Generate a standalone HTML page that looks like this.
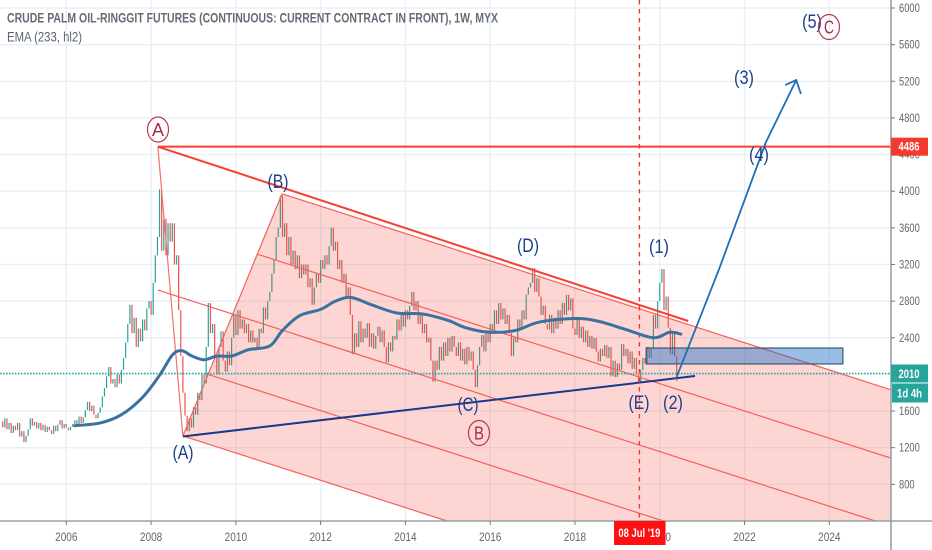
<!DOCTYPE html>
<html>
<head>
<meta charset="utf-8">
<title>Crude Palm Oil Chart</title>
<style>
html,body{margin:0;padding:0;background:#fff;width:932px;height:550px;overflow:hidden}
svg{display:block;filter:blur(0.35px)}
text{font-family:"Liberation Sans",sans-serif}
</style>
</head>
<body>
<svg id="chart" width="932" height="550" viewBox="0 0 932 550" xmlns="http://www.w3.org/2000/svg">
  <defs><clipPath id="plot-clip"><rect x="0" y="0" width="891" height="521"/></clipPath></defs>
  <g id="grid"></g>
  <g id="candles" clip-path="url(#plot-clip)"></g>
  <g id="drawings" clip-path="url(#plot-clip)"></g>
  <g id="ema" clip-path="url(#plot-clip)"></g>
  <g id="axes"></g>

  <text x="7" y="22.5" font-size="13.5" font-weight="bold" fill="#636c77" textLength="491" lengthAdjust="spacingAndGlyphs">CRUDE PALM OIL-RINGGIT FUTURES (CONTINUOUS: CURRENT CONTRACT IN FRONT), 1W, MYX</text>
  <text x="7" y="41.5" font-size="13.5" fill="#5b6570" textLength="75" lengthAdjust="spacingAndGlyphs">EMA (233, hl2)</text>

  <g font-size="19" fill="#1b3f8f" text-anchor="middle">
    <text x="278" y="188" textLength="21" lengthAdjust="spacingAndGlyphs">(B)</text>
    <text x="528" y="252" textLength="22" lengthAdjust="spacingAndGlyphs">(D)</text>
    <text x="659" y="253" textLength="20" lengthAdjust="spacingAndGlyphs">(1)</text>
    <text x="744" y="84" textLength="20" lengthAdjust="spacingAndGlyphs">(3)</text>
    <text x="759" y="161" textLength="20" lengthAdjust="spacingAndGlyphs">(4)</text>
    <text x="812" y="28" textLength="20" lengthAdjust="spacingAndGlyphs">(5)</text>
    <text x="183" y="459" textLength="21" lengthAdjust="spacingAndGlyphs">(A)</text>
    <text x="468" y="411" textLength="21" lengthAdjust="spacingAndGlyphs">(C)</text>
    <text x="639" y="409" textLength="21" lengthAdjust="spacingAndGlyphs">(E)</text>
    <text x="673" y="409" textLength="20" lengthAdjust="spacingAndGlyphs">(2)</text>
  </g>

  <g>
    <ellipse cx="158" cy="129.5" rx="10.5" ry="12.5" fill="#fff" stroke="#b8394c" stroke-width="1.2"/>
    <text x="158" y="136" font-size="18" fill="#a82c45" text-anchor="middle" textLength="12" lengthAdjust="spacingAndGlyphs">A</text>
  </g>
  <g>
    <ellipse cx="479" cy="433" rx="10.5" ry="12.5" fill="none" stroke="#b8394c" stroke-width="1.2"/>
    <text x="479" y="439.5" font-size="18" fill="#a82c45" text-anchor="middle" textLength="10" lengthAdjust="spacingAndGlyphs">B</text>
  </g>
  <g>
    <ellipse cx="829" cy="27" rx="10.5" ry="12.5" fill="none" stroke="#b8394c" stroke-width="1.2"/>
    <text x="829" y="33.5" font-size="18" fill="#a82c45" text-anchor="middle" textLength="10" lengthAdjust="spacingAndGlyphs">C</text>
  </g>

  <g id="labels"></g>
</svg>
<script>
// ---- axis labels ----
const priceTicks = [6000,5600,5200,4800,4400,4000,3600,3200,2800,2400,2000,1600,1200,800];
const yearTicks = [2006,2008,2010,2012,2014,2016,2018,2020,2022,2024];

// ---- weekly series, sampled every 0.05 year from 2004.45 ----
const seriesStartYear = 2004.45;
const seriesStepYears = 0.05;
const closes = [
 1490,1420,1520,1400,1470,1360,1440,1390,1470,1320,1380,1260,1330,1400,1520,1440,1480,1410,1470,1390,
 1450,1370,1430,1390,1350,1440,1380,1450,1500,1410,1460,1420,1390,1430,1460,1500,1450,1540,1470,1530,
 1610,1700,1600,1660,1560,1520,1580,1640,1760,1850,1980,2080,1900,1950,1860,2000,1900,2050,2180,2350,
 2550,2760,2450,2620,2300,2500,2360,2600,2480,2720,2800,2650,3000,3300,3500,4020,3350,3700,3300,3650,
 3450,3650,3200,3300,2700,2200,1800,1550,1380,1520,1420,1640,1560,1800,1720,2000,1900,2300,2780,2450,
 2550,2200,2000,2300,2470,2150,2030,2250,2100,2400,2650,2430,2700,2500,2600,2450,2550,2350,2480,2350,
 2400,2290,2500,2450,2730,2600,2800,2900,3100,3250,3500,3600,3950,3500,3650,3300,3500,3200,3350,3150,
 3300,3050,3200,3090,3200,2950,3050,2760,2950,3100,3000,3250,3150,3300,3200,3400,3600,3350,3450,3150,
 3250,3000,3100,2850,2950,2650,2220,2450,2300,2580,2350,2500,2400,2560,2300,2450,2280,2420,2520,2350,
 2480,2300,2130,2350,2250,2420,2380,2600,2480,2650,2520,2700,2600,2750,2900,2700,2800,2550,2650,2450,
 2550,2350,2400,2150,1920,2150,2050,2300,2150,2350,2200,2400,2250,2420,2300,2200,2350,2150,2280,2110,
 2300,2150,2250,2050,1860,2100,2300,2430,2250,2480,2350,2550,2450,2700,2550,2780,2600,2720,2550,2650,
 2450,2200,2400,2350,2600,2500,2700,2600,2870,2950,3000,3160,2900,3050,2850,2650,2750,2550,2490,2650,
 2450,2620,2500,2700,2550,2780,2650,2870,2700,2830,2500,2430,2600,2400,2520,2350,2480,2300,2420,2280,
 2400,2250,2140,2280,2200,2320,2180,2300,1980,2150,1970,2120,2050,2330,2200,2280,2120,2250,2060,2180,
 2000,1920,2050,2180,2120,2300,2180,2280,2650,2500,2800,3000,3150,2700,2850,2510,2220,2450,2200,1930
];

// ---- EMA (233, hl2) ----
const emaYears = [2006.2,2006.8,2007.3,2007.8,2008.2,2008.5,2008.72,2008.97,2009.25,2009.55,2009.9,2010.3,2010.8,2011.1,2011.5,2012.0,2012.35,2012.72,2013.2,2013.8,2014.4,2015.0,2015.42,2015.98,2016.6,2017.15,2018.0,2018.55,2019.2,2019.85,2020.23,2020.5];
const emaPrices = [1440,1470,1560,1750,1990,2210,2260,2200,2160,2200,2200,2270,2310,2480,2640,2710,2800,2840,2760,2670,2660,2590,2510,2460,2480,2570,2610,2580,2490,2400,2460,2440];

// ---- drawings ----
const channelStartYears = [2011.09,2010.50,2008.16,2009.32,2008.75];
const channelStartPrices = [3972,3314,2921,2004,1328];
const channelSlopePerYear = -149;
const topLevelPrice = 4486;
const topAnchorYear = 2008.16;
const resistanceEnd = [2020.67, 2583];
const supportStart = [2008.75, 1322];
const supportEnd = [2020.83, 1982];
const arrowYears = [2020.38,2021.4,2022.5,2023.22];
const arrowPrices = [1950,3150,4530,5214];
const arrowHeadLeft = [2022.96,5159];
const arrowHeadRight = [2023.33,5061];
const zoneYears = [2019.68,2024.32];
const zonePrices = [2288,2114];
const cursorYear = 2019.52;
const cursorLabel = "08 Jul '19";
const lastPrice = 2010;
const countdownLabel = "1d 4h";

// ---- axis functions ----
function xOf(year){ return 66.3 + (year - 2006) * 42.39; }
function yOf(price){ return 8 + (6000 - price) * 0.0916; }
function yearOfX(x){ return 2006 + (x - 66.3) / 42.39; }
function priceOfY(y){ return 6000 - (y - 8) / 0.0916; }
const plotRightYear = yearOfX(891);
const plotBottomPrice = priceOfY(521);

const NS = 'http://www.w3.org/2000/svg';
function mk(tag, parent, attrs){
  const n = document.createElementNS(NS, tag);
  for (const k in attrs) n.setAttribute(k, attrs[k]);
  parent.appendChild(n);
  return n;
}
const gridG = document.getElementById('grid');
const candleG = document.getElementById('candles');
const drawG = document.getElementById('drawings');
const emaG = document.getElementById('ema');
const axesG = document.getElementById('axes');
const labelG = document.getElementById('labels');

// grid
priceTicks.forEach(function(p){
  const el = mk('line', gridG, {x1:0, x2:891, y1:yOf(p), y2:yOf(p), stroke:'#e8eff6', 'stroke-width':1.4});
  
  
});
yearTicks.forEach(function(t){
  const el = mk('line', gridG, {x1:xOf(t), x2:xOf(t), y1:0, y2:521, stroke:'#e8eff6', 'stroke-width':1.4});
  
  
});

// candles
closes.forEach(function(c, i){
  if (i === 0) return;
  const o = closes[i-1];
  const year = seriesStartYear + i * seriesStepYears;
  const top = yOf(Math.max(o, c));
  const bottom = yOf(Math.min(o, c));
  const el = mk('rect', candleG, {x:xOf(year)-0.6, y:top, width:1.2, height:Math.max(bottom-top, 1), fill: c >= o ? '#26a69a' : '#f0524f'});
  
  
});

// pitchfork: each channel line ends where it leaves the plot area
function channelPrice(i, year){ return channelStartPrices[i] + (year - channelStartYears[i]) * channelSlopePerYear; }
function channelEnd(i){
  const atRight = channelPrice(i, plotRightYear);
  if (atRight >= plotBottomPrice) return [plotRightYear, atRight];
  return [channelStartYears[i] + (plotBottomPrice - channelStartPrices[i]) / channelSlopePerYear, plotBottomPrice];
}
const fillPts = [
  [channelStartYears[0], channelStartPrices[0]],
  channelEnd(0),
  [plotRightYear, plotBottomPrice],
  channelEnd(4),
  [channelStartYears[4], channelStartPrices[4]]
].map(function(p){ return xOf(p[0]) + ',' + yOf(p[1]); }).join(' ');
const channelFill = mk('polygon', drawG, {points:fillPts, fill:'#f44336', 'fill-opacity':0.22});



// channel lines
channelStartYears.forEach(function(t, i){
  const end = channelEnd(i);
  const el = mk('line', drawG, {x1:xOf(t), y1:yOf(channelStartPrices[i]), x2:xOf(end[0]), y2:yOf(end[1]), stroke:'#f4605a', 'stroke-width':1.2});
  
  
});
const forkEdge = mk('line', drawG, {x1:xOf(channelStartYears[0]), y1:yOf(channelStartPrices[0]), x2:xOf(channelStartYears[4]), y2:yOf(channelStartPrices[4]), stroke:'#f4605a', 'stroke-width':1.2});


const forkHandle = mk('line', drawG, {x1:xOf(topAnchorYear), y1:yOf(topLevelPrice), x2:xOf(channelStartYears[4]), y2:yOf(channelStartPrices[4]), stroke:'#f4706a', 'stroke-width':1.2});



// zone
const zoneRect = mk('rect', drawG, {x:xOf(zoneYears[0]), y:yOf(zonePrices[0]), width:xOf(zoneYears[1])-xOf(zoneYears[0]), height:yOf(zonePrices[1])-yOf(zonePrices[0]), fill:'#2a78c8', 'fill-opacity':0.48, stroke:'#3e566e', 'stroke-width':1.2});



// horizontal & trend lines
const levelLine = mk('line', drawG, {x1:xOf(topAnchorYear), y1:yOf(topLevelPrice), x2:891, y2:yOf(topLevelPrice), stroke:'#fb3d32', 'stroke-width':2});


const resistLine = mk('line', drawG, {x1:xOf(topAnchorYear), y1:yOf(topLevelPrice), x2:xOf(resistanceEnd[0]), y2:yOf(resistanceEnd[1]), stroke:'#fb3d32', 'stroke-width':2});


const supportLine = mk('line', drawG, {x1:xOf(supportStart[0]), y1:yOf(supportStart[1]), x2:xOf(supportEnd[0]), y2:yOf(supportEnd[1]), stroke:'#17398c', 'stroke-width':2});



// last price line
const lastLine = mk('line', drawG, {x1:0, x2:891, y1:yOf(lastPrice), y2:yOf(lastPrice), stroke:'#26a69a', 'stroke-width':1.5, 'stroke-dasharray':'1.5 1.5'});



// cursor
const cursorLine = mk('line', drawG, {x1:xOf(cursorYear), x2:xOf(cursorYear), y1:0, y2:521, stroke:'#f0352e', 'stroke-width':1.4, 'stroke-dasharray':'4.5 4.5'});



// arrow
const arrowPts = arrowYears.map(function(t, i){ return xOf(t) + ',' + yOf(arrowPrices[i]); }).join(' ');
const arrowLine = mk('polyline', drawG, {points:arrowPts, fill:'none', stroke:'#1f6fb4', 'stroke-width':1.8});


const headPts = [arrowHeadLeft, [arrowYears[arrowYears.length-1], arrowPrices[arrowPrices.length-1]], arrowHeadRight].map(function(p){ return xOf(p[0]) + ',' + yOf(p[1]); }).join(' ');
const arrowHead = mk('polyline', drawG, {points:headPts, fill:'none', stroke:'#1f6fb4', 'stroke-width':1.8});



// EMA
const emaPts = emaYears.map(function(t, i){ return [xOf(t), yOf(emaPrices[i])]; });
let emaD = 'M' + emaPts[0][0] + ' ' + emaPts[0][1];
for (let i = 0; i < emaPts.length - 1; i++){
  const p0 = emaPts[Math.max(i-1,0)], p1 = emaPts[i], p2 = emaPts[i+1], p3 = emaPts[Math.min(i+2, emaPts.length-1)];
  emaD += ' C' + (p1[0]+(p2[0]-p0[0])/6) + ' ' + (p1[1]+(p2[1]-p0[1])/6) + ' ' + (p2[0]-(p3[0]-p1[0])/6) + ' ' + (p2[1]-(p3[1]-p1[1])/6) + ' ' + p2[0] + ' ' + p2[1];
}
const emaLine = mk('path', emaG, {d:emaD, fill:'none', stroke:'#3a729f', 'stroke-width':3, 'stroke-linejoin':'round', 'stroke-linecap':'round'});



// axes
const xAxis = mk('line', axesG, {x1:0, x2:932, y1:521, y2:521, stroke:'#9aa0a6', 'stroke-width':1.4});


const yAxis = mk('line', axesG, {x1:891, x2:891, y1:0, y2:550, stroke:'#9aa0a6', 'stroke-width':1.6});


priceTicks.forEach(function(p){
  const tick = mk('line', axesG, {x1:891, x2:895, y1:yOf(p), y2:yOf(p), stroke:'#777', 'stroke-width':1});
  
  
  const s = String(p);
  const lab = mk('text', axesG, {x:899, y:yOf(p)+4, 'font-size':11.5, fill:'#5f6770', textLength:s.length*5.2, lengthAdjust:'spacingAndGlyphs'});
  lab.textContent = s;
  
  
});
yearTicks.forEach(function(t){
  const tick = mk('line', axesG, {x1:xOf(t), x2:xOf(t), y1:521, y2:525, stroke:'#777', 'stroke-width':1});
  
  
  const lab = mk('text', axesG, {x:xOf(t)-11.2, y:541, 'font-size':11.5, fill:'#5f6770', textLength:22.4, lengthAdjust:'spacingAndGlyphs'});
  lab.textContent = String(t);
  
  
});

// badges
function badge(x, y, w, h, fill){
  return mk('rect', labelG, {x:x, y:y, width:w, height:h, fill:fill});
}
function badgeText(cx, y, w, txt){
  const t = mk('text', labelG, {x:cx - w/2, y:y, 'font-size':12, 'font-weight':'bold', fill:'#fff', textLength:w, lengthAdjust:'spacingAndGlyphs'});
  t.textContent = txt;
  return t;
}
const levelBadge = badge(891, yOf(topLevelPrice)-9, 37, 18, '#f4392e');


const levelText = badgeText(909, yOf(topLevelPrice)+4, 21, String(topLevelPrice));



const lastBadge = badge(891, yOf(lastPrice)-9, 37, 18, '#26a69a');


const lastText = badgeText(909, yOf(lastPrice)+4.5, 21, String(lastPrice));



const countBadge = badge(892, yOf(lastPrice)+10, 36, 19, '#26a69a');


const countText = badgeText(909.5, yOf(lastPrice)+24, 25, countdownLabel);



const dateBadge = badge(xOf(cursorYear)-25.4, 521, 51.5, 24, '#ff0f0f');


const dateText = badgeText(xOf(cursorYear), 537, 42, cursorLabel);


</script>
</body>
</html>
